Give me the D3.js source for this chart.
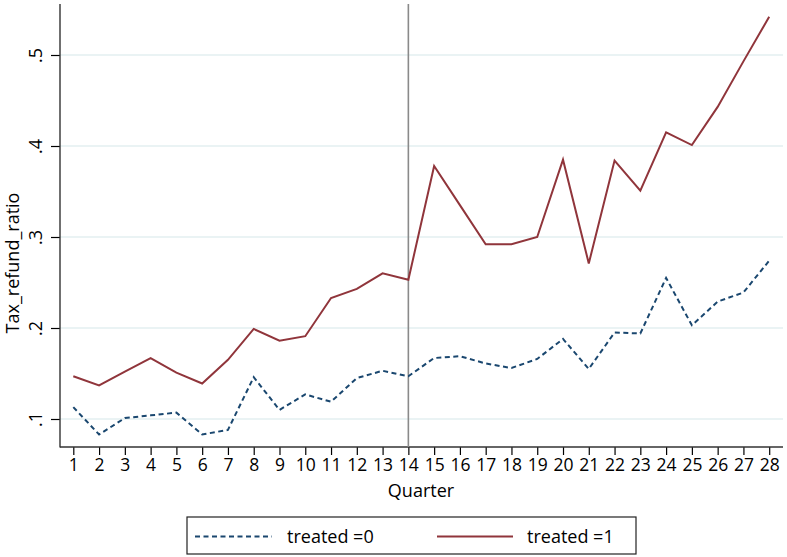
<!DOCTYPE html>
<html><head><meta charset="utf-8">
<script src="https://cdn.jsdelivr.net/npm/d3@7"></script>
<style>body{margin:0;background:#fff}svg{display:block}text{font-family:"Open Sans","Noto Sans",sans-serif;fill:#000}</style>
</head><body><svg id="c" width="787" height="557"></svg>
<script>
const quarters = d3.range(1, 29);
const treated0 = [0.113,0.083,0.101,0.104,0.107,0.083,0.088,0.146,0.110,0.127,0.119,0.145,0.153,0.147,0.167,0.169,0.161,0.156,0.166,0.188,0.155,0.195,0.194,0.255,0.203,0.229,0.239,0.274];
const treated1 = [0.147,0.137,0.152,0.167,0.151,0.139,0.165,0.199,0.186,0.191,0.233,0.243,0.260,0.253,0.378,0.335,0.292,0.292,0.300,0.385,0.271,0.384,0.351,0.415,0.401,0.443,0.493,0.542];
const yTicks = [0.1,0.2,0.3,0.4,0.5];
const yTickLabels = [".1",".2",".3",".4",".5"];
const eventQuarter = 14;
const seriesNames = ["treated =0","treated =1"];

const svg = d3.select("#c");
const L=60, R=783, T=4, B=447;
const x = d3.scaleLinear().domain([1,28]).range([73.3,769.2]);
const y = d3.scaleLinear().domain([0.1,0.5]).range([419,55]);
const blue="#1a476f", red="#90353b";

// grid
svg.append("g").selectAll("line").data(yTicks).join("line")
  .attr("x1",L).attr("x2",R).attr("y1",d=>y(d)).attr("y2",d=>y(d))
  .attr("stroke","#e3eff1").attr("stroke-width",1.3);

// axes
const yAxis = d3.axisLeft(y).tickValues(yTicks).tickSize(9).tickFormat((d,i)=>yTickLabels[i]);
const gy = svg.append("g").attr("transform",`translate(${L},0)`).call(yAxis);
gy.select(".domain").remove();
gy.selectAll(".tick line").attr("stroke","#000").attr("stroke-width",1.2);
gy.selectAll(".tick text").attr("transform","rotate(-90)").attr("x",0).attr("y",-18)
  .attr("dy",0).attr("text-anchor","middle").style("font-size","18px").attr("fill","#000");
svg.append("line").attr("x1",L).attr("x2",L).attr("y1",T).attr("y2",B+0.6).attr("stroke","#333").attr("stroke-width",1.4);

const xAxis = d3.axisBottom(x).tickValues(quarters).tickSize(8).tickFormat(d3.format("d"));
const gx = svg.append("g").attr("transform",`translate(0,${B})`).call(xAxis);
gx.select(".domain").remove();
gx.selectAll(".tick line").attr("stroke","#000").attr("stroke-width",1.2);
gx.selectAll(".tick text").attr("y",12).style("font-size","17.5px").attr("fill","#000");
svg.append("line").attr("x1",L).attr("x2",R).attr("y1",B).attr("y2",B).attr("stroke","#333").attr("stroke-width",1.4);

// event line
svg.append("line").attr("x1",x(eventQuarter)).attr("x2",x(eventQuarter)).attr("y1",T).attr("y2",B)
  .attr("stroke","#8a8a8a").attr("stroke-width",1.6);

// lines
const line = d3.line().x((d,i)=>x(quarters[i])).y(d=>y(d));
svg.append("path").datum(treated0).attr("d",line).attr("fill","none").attr("stroke",blue)
  .attr("stroke-width",2).attr("stroke-dasharray","5,3.5");
svg.append("path").datum(treated1).attr("d",line).attr("fill","none").attr("stroke",red)
  .attr("stroke-width",2);

// axis titles
svg.append("text").attr("transform","translate(19,263) rotate(-90)").attr("text-anchor","middle")
  .style("font-size","18px").text("Tax_refund_ratio");
svg.append("text").attr("x",421).attr("y",497).attr("text-anchor","middle")
  .style("font-size","18px").text("Quarter");

// legend
svg.append("rect").attr("x",187).attr("y",517).attr("width",449).attr("height",37)
  .attr("fill","#fff").attr("stroke","#222").attr("stroke-width",1.2);
const leg = [{x1:195,x2:272,tx:287,c:blue,dash:"5,3.5"},{x1:437,x2:513,tx:527,c:red,dash:null}];
leg.forEach((l,i)=>{
  svg.append("line").attr("x1",l.x1).attr("x2",l.x2).attr("y1",536.5).attr("y2",536.5)
    .attr("stroke",l.c).attr("stroke-width",2).attr("stroke-dasharray",l.dash);
  svg.append("text").attr("x",l.tx).attr("y",542.5).style("font-size","18px").text(seriesNames[i]);
});
</script></body></html>
